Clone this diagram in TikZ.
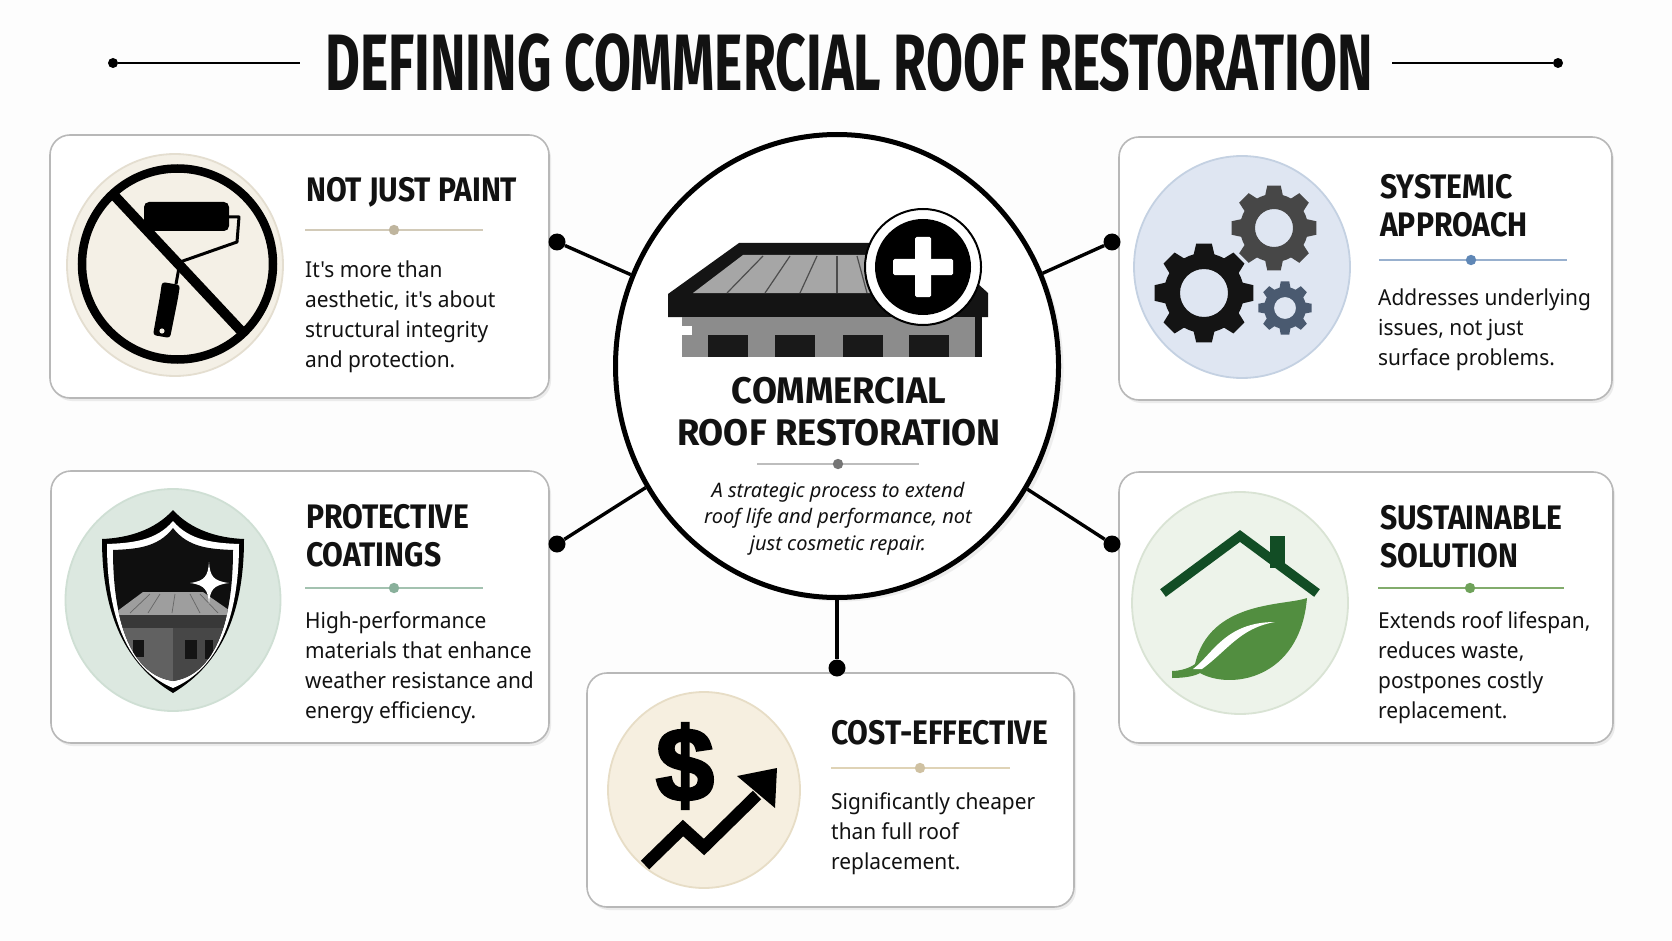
\documentclass[tikz,border=0pt]{standalone}
\usepackage{fontspec}
\usepackage{tikz}
\usetikzlibrary{positioning,shapes.geometric,shadows,calc}
\setmainfont{Noto Sans}
\newfontfamily\bodyfont[FakeStretch=0.95]{Noto Sans}
\newfontfamily\titlefont[FakeStretch=0.67]{Fira Sans}
\newfontfamily\headfont[FakeStretch=0.885]{Fira Sans}
\newfontfamily\hubfont[FakeStretch=0.98]{Fira Sans}
\newfontfamily\dollarfont[FakeBold=3]{Liberation Sans}

\definecolor{pagebg}{HTML}{FDFDFD}
\definecolor{ink}{HTML}{121212}
\definecolor{cardline}{HTML}{B8B8B8}
\definecolor{creamfill}{HTML}{F4F0E6}
\definecolor{creamline}{HTML}{E4DED0}
\definecolor{sagefill}{HTML}{DCE8E0}
\definecolor{sageline}{HTML}{CFDFD4}
\definecolor{bluefill}{HTML}{DFE6F2}
\definecolor{blueline}{HTML}{C4D1E2}
\definecolor{leaffill}{HTML}{EDF3EA}
\definecolor{leafline}{HTML}{D9E3D4}
\definecolor{sandfill}{HTML}{F6EFE0}
\definecolor{sandline}{HTML}{E7DDC6}
\definecolor{housegreen}{HTML}{124D25}
\definecolor{leafgreen}{HTML}{528E40}
\definecolor{slategear}{HTML}{4A5A70}
\definecolor{rulegrey}{HTML}{BDBDBD}
\definecolor{dotgrey}{HTML}{757575}
\definecolor{ruletan}{HTML}{D2CAB8}
\definecolor{dottan}{HTML}{BFB59E}
\definecolor{rulesage}{HTML}{A3C2B0}
\definecolor{dotsage}{HTML}{89B09B}
\definecolor{ruleblue}{HTML}{98B0CE}
\definecolor{dotblue}{HTML}{5F87B6}
\definecolor{rulegreen}{HTML}{82AC6C}
\definecolor{dotgreen}{HTML}{6FA25A}
\definecolor{rulesand}{HTML}{DFD3B6}
\definecolor{dotsand}{HTML}{CFC1A2}

\tikzstyle{card}      = [rectangle, rounded corners=20pt, draw=cardline, line width=1.6pt, fill=white, drop shadow={shadow xshift=2pt, shadow yshift=-3pt, opacity=0.14}]
\tikzstyle{iconbg}    = [ellipse, inner sep=0pt, line width=1.8pt]
\tikzstyle{spoke}     = [line width=3.4pt, black]
\tikzstyle{joint}     = [circle, fill=black, inner sep=0pt, minimum size=17pt]
\tikzstyle{cardhead}  = [anchor=base west, inner sep=0pt, align=left, text=ink, font=\headfont\bfseries\fontsize{34}{38}\selectfont]
\tikzstyle{cardbody}  = [anchor=base west, inner sep=0pt, align=left, text=ink, font=\bodyfont\fontsize{22}{30}\selectfont]

\newcommand{\gearicon}[5]{
	\begin{scope}[shift={(#1)}]
		\fill[#5, even odd rule] (22.5:#3) \foreach \a in {45,90,...,360} { -- (\a-15:#3) -- (\a-9:#2) -- (\a+9:#2) -- (\a+15:#3) -- (\a+22.5:#3) } -- cycle (0,0) circle[radius=#4];
	\end{scope}
}
\newcommand{\shieldshape}[4]{(173,#1) .. controls (173-18*#2/71,#1+20) and (173-45*#2/71,#3-1) .. (173-#2,#3) .. controls (173-#2,#3+75) and (173-48*#2/71,#3+125) .. (173,#4) .. controls (173+48*#2/71,#3+125) and (173+#2,#3+75) .. (173+#2,#3) .. controls (173+45*#2/71,#3-1) and (173+18*#2/71,#1+20) .. (173,#1) -- cycle}

\begin{document}
\begin{tikzpicture}[x=1pt,y=-1pt]
	\useasboundingbox (0,0) rectangle (1672,941);
	\fill[pagebg] (0,0) rectangle (1672,941);

	% title
	\node[anchor=base, inner sep=0pt, text=ink, font=\titlefont\bfseries\fontsize{80}{80}\selectfont] (title) at (849,91) {DEFINING COMMERCIAL ROOF RESTORATION};
	\node[circle, fill=black, inner sep=0pt, minimum size=10pt] (titleleft) at (113,63) {};
	\node[circle, fill=black, inner sep=0pt, minimum size=10pt] (titleright) at (1558,63) {};
	\coordinate (titlelstop) at (300,63);
	\coordinate (titlerstop) at (1392,63);
	\draw[line width=2pt, black] (titleleft) -- (titlelstop);
	\draw[line width=2pt, black] (titlerstop) -- (titleright);

	% cards
	\node[card, minimum width=499pt, minimum height=263pt] (cardpaint) at (299.5,266.5) {};
	\node[card, minimum width=498pt, minimum height=272pt] (cardcoat) at (300,607) {};
	\node[card, minimum width=493pt, minimum height=263pt] (cardsys) at (1365.5,268.5) {};
	\node[card, minimum width=494pt, minimum height=271pt] (cardgreen) at (1366,607.5) {};
	\node[card, minimum width=487pt, minimum height=234pt] (cardcost) at (830.5,790) {};

	% hub
	\node[ellipse, draw=black, line width=5pt, fill=white, inner sep=0pt, minimum width=443pt, minimum height=463pt, drop shadow={shadow xshift=5pt, shadow yshift=-4pt, opacity=0.12}] (hub) at (837,366) {};
	\node[joint] (jpaint) at (557,242) {};
	\node[joint] (jcoat) at (557,544) {};
	\node[joint] (jsys) at (1112,242) {};
	\node[joint] (jgreen) at (1112,544) {};
	\node[joint] (jcost) at (837,668) {};
	\foreach \j in {jpaint,jcoat,jsys,jgreen,jcost}
		\draw[spoke] (hub) -- (\j);

	% roof in hub
	\fill[black!92] (668,294) -- (739,243) -- (933,243) -- (988,293) -- (988,317) -- (668,317) -- cycle;
	\fill[black!35] (693,293) -- (743,255) -- (880,255) -- (880,293) -- cycle;
	\foreach \xa/\xb in {763/727,790/765,817/800,837/837,857/867}
		\draw[black!70, line width=1.2pt] (\xa,256) -- (\xb,293);
	\fill[black!45] (682,317) rectangle (975,357);
	\fill[black!92] (975,317) rectangle (982,357);
	\fill[white] (682,326) rectangle (692,335);
	\foreach \xw in {708,775,843,909}
		\fill[black!90] (\xw,335) rectangle (\xw+40,357);
	\node[circle, draw=black, line width=2pt, fill=white, inner sep=0pt, minimum size=116pt] (badge) at (923,267) {};
	\node[circle, fill=black, inner sep=0pt, minimum size=96pt] (badgecore) at (badge) {};
	\fill[white, rounded corners=1.5pt] (915,237) rectangle (931,297);
	\fill[white, rounded corners=1.5pt] (893,259) rectangle (953,275);

	\node[anchor=base, inner sep=0pt, align=center, text=ink, font=\hubfont\bfseries\fontsize{37}{42}\selectfont] (hubtitle) at (839,445) {COMMERCIAL\\ROOF RESTORATION};
	\node[anchor=base, inner sep=0pt, align=center, text=ink, font=\itshape\fontsize{20}{26.5}\selectfont] (hubtext) at (838,550) {A strategic process to extend\\roof life and performance, not\\just cosmetic repair.};

	% rules under the heads
	\foreach \xa/\xb/\yr/\xd/\linecol/\dotcol in {
		757/919/464/838/rulegrey/dotgrey,
		305/483/230/394/ruletan/dottan,
		305/483/588/394/rulesage/dotsage,
		1379/1567/260/1471/ruleblue/dotblue,
		1378/1564/588/1470/rulegreen/dotgreen,
		831/1010/768/920/rulesand/dotsand}
	{
		\draw[\linecol, line width=1.6pt] (\xa,\yr) -- (\xb,\yr);
		\fill[\dotcol] (\xd,\yr) circle[radius=5.2];
	}

	% not just paint
	\node[iconbg, draw=creamline, fill=creamfill, minimum width=216pt, minimum height=222pt] (iconpaint) at (175,265) {};
	\draw[black, line width=8.5pt] (177.5,264) circle[radius=95.5];
	\draw[black, line width=3pt, line join=round] (228,217) -- (239,217) -- (237,242) -- (180,262) -- (176,284);
	\fill[black, rounded corners=5pt] (144,202) rectangle (229,231);
	\fill[black, rounded corners=3pt] (162,282) -- (180,285) -- (178,298) -- (170,338) -- (153,335) -- (160,296) -- cycle;
	\fill[creamfill] (162,331) circle[radius=2.6];
	\draw[black, line width=10pt] (112,193) -- (243,333);
	\node[cardhead] (headpaint) at (306,202) {NOT JUST PAINT};
	\node[cardbody] (bodypaint) at (305,367) {It's more than\\aesthetic, it's about\\structural integrity\\and protection.};

	% protective coatings
	\node[iconbg, draw=sageline, fill=sagefill, minimum width=215pt, minimum height=222pt] (iconcoat) at (173,600) {};
	\fill[black] \shieldshape{510}{71}{539}{693};
	\fill[white] \shieldshape{521}{66}{544}{688};
	\begin{scope}
		\clip \shieldshape{528}{60}{550}{681};
		\fill[black!94] (100,520) rectangle (250,700);
		\fill[black!62] (100,617) rectangle (173,700);
		\fill[black!72] (173,617) rectangle (250,700);
		\fill[black!38] (112,615) -- (143,592) -- (203,592) -- (236,615) -- cycle;
		\fill[black!78] (105,615) rectangle (250,628);
		\foreach \xa/\xb in {160/148,175/172,190/200,150/130,200/218}
			\draw[black!60, line width=0.7pt] (\xa,594) -- (\xb,613);
		\fill[black!92] (133,640) rectangle (144,657);
		\fill[black!92] (185,640) rectangle (197,659);
		\fill[black!92] (205,640) rectangle (213,659);
	\end{scope}
	\fill[white] (209,562) .. controls (210,576) and (213,581) .. (229,583) .. controls (213,585) and (210,590) .. (209,604) .. controls (208,590) and (205,585) .. (190,583) .. controls (205,581) and (208,576) .. (209,562) -- cycle;
	\node[cardhead] (headcoat) at (306,566) {PROTECTIVE\\COATINGS};
	\node[cardbody] (bodycoat) at (305,718) {High-performance\\materials that enhance\\weather resistance and\\energy efficiency.};

	% systemic approach
	\node[iconbg, draw=blueline, fill=bluefill, minimum width=216pt, minimum height=222pt] (iconsys) at (1242,267) {};
	\gearicon{1274,228}{43}{34}{19}{black!72}
	\gearicon{1204,293}{50}{40}{24}{black!92}
	\gearicon{1285,308}{27}{21}{11}{slategear}
	\node[cardhead] (headsys) at (1380,237) {SYSTEMIC\\APPROACH};
	\node[cardbody] (bodysys) at (1378,365) {Addresses underlying\\issues, not just\\surface problems.};

	% sustainable solution
	\node[iconbg, draw=leafline, fill=leaffill, minimum width=216pt, minimum height=222pt] (icongreen) at (1240,603) {};
	\fill[housegreen] (1270,536) rectangle (1285,568);
	\draw[housegreen, line width=9.5pt] (1163,593) -- (1240,536) -- (1317,593);
	\fill[leafgreen] (1307,598) .. controls (1285,606) and (1210,600) .. (1195,664) .. controls (1190,668) and (1180,671) .. (1172,671) -- (1172,678) .. controls (1185,678) and (1195,676) .. (1200,673) .. controls (1230,690) and (1300,680) .. (1307,598) -- cycle;
	\fill[white] (1193,669) .. controls (1212,655) and (1225,622) .. (1275,622) .. controls (1240,628) and (1228,650) .. (1202,669) -- cycle;
	\node[cardhead] (headgreen) at (1380,567) {SUSTAINABLE\\SOLUTION};
	\node[cardbody] (bodygreen) at (1378,718) {Extends roof lifespan,\\reduces waste,\\postpones costly\\replacement.};

	% cost-effective
	\node[iconbg, draw=sandline, fill=sandfill, minimum width=192pt, minimum height=196pt] (iconcost) at (704,790) {};
	\node[inner sep=0pt, text=black, font=\dollarfont\bfseries\fontsize{104}{104}\selectfont] (dollar) at (685,766) {\$};
	\draw[black, line width=12pt, line join=miter] (645,865) -- (683,828) -- (704,847) -- (757,795);
	\fill[black] (777,768) -- (737,776) -- (775,808) -- cycle;
	\node[cardhead] (headcost) at (831,744) {COST-EFFECTIVE};
	\node[cardbody] (bodycost) at (831,869) {Significantly cheaper\\than full roof\\replacement.};
\end{tikzpicture}
\end{document}
